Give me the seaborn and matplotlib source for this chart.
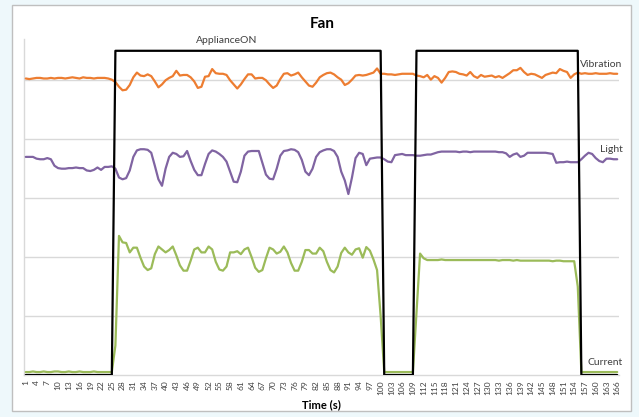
import matplotlib
matplotlib.use("Agg")
import matplotlib.pyplot as plt
from matplotlib.patches import Rectangle
import numpy as np
import pandas as pd
import seaborn as sns

# Time index (s) and sensor readings, in chart units (one gridline = 1)
time_s = list(range(1, 167))

vibration = [
    5.03, 5.02, 5.03, 5.04, 5.04, 5.03, 5.03, 5.04, 5.03, 5.04,
    5.04, 5.03, 5.04, 5.05, 5.04, 5.03, 5.05, 5.04, 5.04, 5.03,
    5.04, 5.04, 5.04, 5.03, 5.01, 4.97, 4.89, 4.83, 4.84, 4.92,
    5.05, 5.13, 5.08, 5.07, 5.10, 5.07, 4.98, 4.88, 4.93, 5.00,
    5.04, 5.07, 5.16, 5.08, 5.09, 5.09, 5.05, 4.98, 4.87, 4.89,
    5.06, 5.07, 5.19, 5.12, 5.11, 5.11, 5.09, 5.00, 4.93, 4.86,
    4.93, 5.02, 5.10, 5.10, 5.03, 5.04, 5.04, 5.00, 4.93, 4.87,
    4.91, 5.02, 5.11, 5.12, 5.08, 5.10, 5.13, 5.05, 4.98, 4.91,
    4.89, 4.96, 5.05, 5.09, 5.12, 5.13, 5.10, 5.05, 5.01, 4.92,
    4.95, 5.01, 5.08, 5.09, 5.08, 5.09, 5.11, 5.13, 5.20, 5.11,
    5.11, 5.10, 5.10, 5.09, 5.10, 5.11, 5.11, 5.11, 5.11, 5.08,
    5.07, 5.05, 5.09, 5.01, 5.07, 5.04, 4.96, 5.04, 5.14, 5.15,
    5.14, 5.11, 5.10, 5.08, 5.14, 5.07, 5.04, 5.09, 5.06, 5.07,
    5.08, 5.05, 5.07, 5.04, 5.08, 5.12, 5.17, 5.17, 5.21, 5.14,
    5.09, 5.11, 5.10, 5.07, 5.04, 5.09, 5.11, 5.13, 5.12, 5.19,
    5.16, 5.14, 5.04, 5.10, 5.13, 5.11, 5.12, 5.11, 5.11, 5.12,
    5.11, 5.11, 5.11, 5.12, 5.11, 5.11,
]

light = [
    3.70, 3.70, 3.70, 3.67, 3.66, 3.66, 3.68, 3.66, 3.55, 3.51,
    3.50, 3.50, 3.51, 3.51, 3.52, 3.51, 3.51, 3.47, 3.46, 3.48,
    3.52, 3.48, 3.53, 3.53, 3.54, 3.50, 3.35, 3.32, 3.34, 3.47,
    3.70, 3.81, 3.83, 3.83, 3.82, 3.77, 3.55, 3.32, 3.21, 3.50,
    3.70, 3.77, 3.75, 3.70, 3.71, 3.80, 3.63, 3.48, 3.39, 3.39,
    3.58, 3.75, 3.81, 3.79, 3.75, 3.70, 3.62, 3.45, 3.28, 3.27,
    3.45, 3.72, 3.79, 3.80, 3.80, 3.80, 3.60, 3.40, 3.33, 3.32,
    3.50, 3.72, 3.80, 3.81, 3.83, 3.82, 3.78, 3.65, 3.45, 3.39,
    3.50, 3.70, 3.78, 3.81, 3.83, 3.83, 3.80, 3.70, 3.45, 3.30,
    3.07, 3.35, 3.68, 3.77, 3.75, 3.56, 3.67, 3.68, 3.69, 3.69,
    3.66, 3.62, 3.61, 3.73, 3.74, 3.75, 3.73, 3.73, 3.73, 3.72,
    3.72, 3.73, 3.74, 3.74, 3.76, 3.78, 3.79, 3.79, 3.79, 3.79,
    3.79, 3.78, 3.79, 3.79, 3.78, 3.79, 3.79, 3.79, 3.79, 3.79,
    3.79, 3.79, 3.78, 3.78, 3.76, 3.70, 3.74, 3.76, 3.70, 3.72,
    3.77, 3.77, 3.77, 3.77, 3.77, 3.77, 3.76, 3.75, 3.60, 3.61,
    3.61, 3.62, 3.61, 3.61, 3.61, 3.66, 3.72, 3.77, 3.75, 3.68,
    3.63, 3.61, 3.67, 3.67, 3.66, 3.66,
]

current = [
    0.05, 0.05, 0.06, 0.05, 0.05, 0.06, 0.05, 0.05, 0.06, 0.06,
    0.05, 0.05, 0.06, 0.05, 0.05, 0.06, 0.05, 0.05, 0.05, 0.06,
    0.05, 0.05, 0.05, 0.05, 0.05, 0.50, 2.36, 2.25, 2.24, 2.08,
    2.16, 2.16, 1.99, 1.84, 1.78, 1.81, 2.05, 2.18, 2.13, 2.08,
    2.12, 2.18, 2.03, 1.86, 1.77, 1.77, 1.94, 2.13, 2.16, 2.08,
    2.08, 2.18, 2.13, 1.92, 1.79, 1.77, 1.84, 2.08, 2.08, 2.10,
    2.05, 2.13, 2.16, 2.00, 1.82, 1.75, 1.78, 1.98, 2.16, 2.13,
    2.06, 2.09, 2.18, 2.08, 1.90, 1.77, 1.77, 1.92, 2.12, 2.12,
    2.06, 2.06, 2.16, 2.10, 1.92, 1.78, 1.74, 1.84, 2.07, 2.16,
    2.08, 2.04, 2.13, 2.15, 1.99, 2.17, 2.11, 1.96, 1.78, 1.00,
    0.05, 0.05, 0.05, 0.05, 0.05, 0.05, 0.05, 0.05, 0.05, 1.05,
    2.06, 1.98, 1.95, 1.95, 1.95, 1.95, 1.96, 1.95, 1.95, 1.95,
    1.95, 1.95, 1.95, 1.95, 1.95, 1.95, 1.95, 1.95, 1.95, 1.95,
    1.95, 1.95, 1.94, 1.95, 1.95, 1.95, 1.94, 1.95, 1.94, 1.94,
    1.94, 1.94, 1.94, 1.94, 1.94, 1.94, 1.94, 1.93, 1.94, 1.94,
    1.93, 1.93, 1.93, 1.93, 1.50, 0.05, 0.05, 0.05, 0.05, 0.05,
    0.05, 0.05, 0.05, 0.05, 0.05, 0.05,
]

appliance_on = [0.0] * 25 + [5.5] * 75 + [0.0] * 9 + [5.5] * 46 + [0.0] * 11

tick_labels = [str(t) for t in range(1, 167, 3)]

df = pd.DataFrame({
    "Time (s)": time_s,
    "Vibration": vibration,
    "Light": light,
    "Current": current,
    "ApplianceON": appliance_on,
})

sns.set_theme(style="white")
plt.rcParams["font.family"] = ["Lato", "DejaVu Sans"]

fig = plt.figure(figsize=(6.39, 4.17), dpi=100)
fig.patch.set_facecolor("#EEF8FB")

# white chart frame behind the axes
fig.patches.append(Rectangle((12 / 639, 1 - 411 / 417), 619 / 639, 406 / 417,
                             transform=fig.transFigure, facecolor="white",
                             edgecolor="#BFBFBF", linewidth=1.0, zorder=-5))

ax = fig.add_axes([24 / 639, 42 / 417, 595 / 639, 336 / 417])
ax.set_zorder(2)
ax.set_facecolor("white")

series_style = [
    ("Vibration", "#ED7D31"),
    ("Light", "#8064A2"),
    ("Current", "#9BBB59"),
    ("ApplianceON", "black"),
]
for name, color in series_style:
    sns.lineplot(data=df, x="Time (s)", y=name, ax=ax, color=color,
                 linewidth=1.6, zorder=3)

ax.set_xlim(0.5, 166.5)
ax.set_ylim(0, 5.7)
ax.set_yticks([1, 2, 3, 4, 5])
ax.set_yticklabels([])
ax.yaxis.grid(True, color="#D9D9D9", linewidth=1.0)
ax.set_ylabel("")
ax.tick_params(axis="y", length=0)

ax.set_xticks(list(range(1, 167, 3)))
ax.set_xticklabels(tick_labels, rotation=90, fontsize=6, color="#404040")
ax.tick_params(axis="x", length=0, pad=4)
ax.set_xlabel("Time (s)", fontsize=8, fontweight="bold", color="black", labelpad=3)

for side in ["top", "right"]:
    ax.spines[side].set_visible(False)
ax.spines["left"].set_color("#D9D9D9")
ax.spines["bottom"].set_color("#D9D9D9")
ax.spines["left"].set_linewidth(1.0)
ax.spines["bottom"].set_linewidth(1.0)

# series labels
label_kw = dict(fontsize=7.5, color="#404040", ha="right", va="center")
ax.text(167.5, vibration[-1] + 0.15, "Vibration", **label_kw, clip_on=False)
ax.text(167.5, light[-1] + 0.17, "Light", **label_kw, clip_on=False)
ax.text(167.5, current[-1] + 0.17, "Current", **label_kw, clip_on=False)
ax.text(57, appliance_on[30] + 0.17, "ApplianceON", fontsize=7.5,
        color="#404040", ha="center", va="center")

fig.text(322 / 639, 1 - 24 / 417, "Fan", fontsize=11, fontweight="bold",
         ha="center", va="center", color="black")

fig.savefig("out.png", dpi=100, facecolor=fig.get_facecolor())
